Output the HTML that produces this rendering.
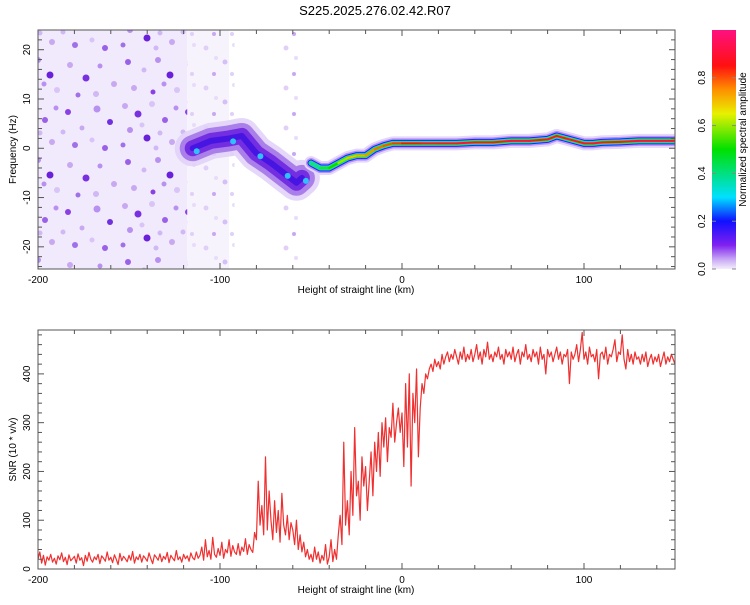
<!DOCTYPE html>
<html><head><meta charset="utf-8"><style>
html,body{margin:0;padding:0;background:#fff;}
svg text{font-family:"Liberation Sans",sans-serif;fill:#000;}
</style></head><body>
<svg id="chart" width="750" height="600" viewBox="0 0 750 600" xmlns="http://www.w3.org/2000/svg">
<defs>
<linearGradient id="cmap" x1="0" y1="1" x2="0" y2="0">
<stop offset="0" stop-color="#f4eefc"/><stop offset="0.04" stop-color="#c8a8f4"/>
<stop offset="0.1" stop-color="#8020f0"/><stop offset="0.2" stop-color="#1010ff"/>
<stop offset="0.3" stop-color="#00e0ff"/><stop offset="0.5" stop-color="#00e000"/>
<stop offset="0.65" stop-color="#e8f000"/><stop offset="0.75" stop-color="#ff9000"/>
<stop offset="0.85" stop-color="#ff1010"/><stop offset="1" stop-color="#ff1080"/>
</linearGradient>
<pattern id="noise" width="120" height="100" patternUnits="userSpaceOnUse">
<circle cx="5" cy="6" r="3" fill="#c8a8f0"/><circle cx="18" cy="14" r="3.5" fill="#7a30e0"/>
<circle cx="32" cy="4" r="3" fill="#d8c4f6"/><circle cx="45" cy="20" r="3" fill="#9a60e8"/>
<circle cx="10" cy="30" r="3" fill="#b890f0"/><circle cx="27" cy="38" r="3.5" fill="#6a20d8"/>
<circle cx="52" cy="42" r="3" fill="#c8a8f0"/><circle cx="40" cy="33" r="2.5" fill="#d0b8f4"/>
<circle cx="3" cy="45" r="2.5" fill="#a070e8"/><circle cx="56" cy="8" r="2.5" fill="#b890f0"/>
<circle cx="22" cy="25" r="2.5" fill="#d8c4f6"/><circle cx="36" cy="48" r="2.5" fill="#d0b8f4"/>
<circle cx="68" cy="12" r="3" fill="#8a40e4"/><circle cx="82" cy="28" r="2.5" fill="#c8a8f0"/>
<circle cx="97" cy="9" r="3.5" fill="#b890f0"/><circle cx="110" cy="22" r="3" fill="#7030e0"/>
<circle cx="75" cy="45" r="3" fill="#a070e8"/><circle cx="92" cy="40" r="2.5" fill="#d8c4f6"/>
<circle cx="105" cy="48" r="3" fill="#9a60e8"/><circle cx="63" cy="32" r="2.5" fill="#d0b8f4"/>
<circle cx="8" cy="62" r="3" fill="#9a60e8"/><circle cx="24" cy="70" r="2.5" fill="#d0b8f4"/>
<circle cx="38" cy="60" r="3" fill="#b890f0"/><circle cx="50" cy="75" r="3.5" fill="#6a20d8"/>
<circle cx="14" cy="88" r="3" fill="#c8a8f0"/><circle cx="33" cy="92" r="2.5" fill="#8a40e4"/>
<circle cx="57" cy="90" r="3" fill="#d8c4f6"/><circle cx="70" cy="65" r="3" fill="#c8a8f0"/>
<circle cx="86" cy="78" r="3.5" fill="#7a30e0"/><circle cx="100" cy="66" r="2.5" fill="#b890f0"/>
<circle cx="114" cy="84" r="3" fill="#c8a8f0"/><circle cx="78" cy="95" r="2.5" fill="#a070e8"/>
<circle cx="96" cy="94" r="3" fill="#d0b8f4"/><circle cx="44" cy="84" r="2.5" fill="#b890f0"/>
</pattern>
<pattern id="noise2" width="40" height="40" patternUnits="userSpaceOnUse">
<circle cx="6" cy="8" r="2.5" fill="#e0d0f8"/><circle cx="25" cy="22" r="2.5" fill="#d4bff6"/>
<circle cx="14" cy="34" r="2" fill="#c8a8f0"/><circle cx="34" cy="5" r="2" fill="#e8dcfa"/>
<circle cx="32" cy="34" r="2" fill="#e0d0f8"/><circle cx="16" cy="18" r="2" fill="#e8dcfa"/>
</pattern>
</defs>
<text x="375" y="15" text-anchor="middle" font-size="13">S225.2025.276.02.42.R07</text>
<g id="top"></g>
<g id="bot"></g>
<g id="cbar"></g>
</svg>
<script>
// ---- data ----
const xTicks = [-200, -100, 0, 100];
const freqTicks = [-20, -10, 0, 10, 20];
const snrTicks = [0, 100, 200, 300, 400];
const cbarTicks = [0.0, 0.2, 0.4, 0.6, 0.8];
const ridgeX = [-50,-45,-40,-35,-30,-25,-20,-15,-10,-5,0,10,20,30,40,50,60,70,80,85,90,100,105,110,120,130,150];
const ridgeF = [-3,-4,-4,-3,-2,-1.5,-1.5,-0.2,0.5,1,1,1,1,1,1.2,1.2,1.5,1.5,1.8,2.5,2,1,1,1.2,1.3,1.5,1.5];
const ridgeAmp = [0.35,0.4,0.5,0.6,0.7,0.72,0.75,0.78,0.8,0.82,0.85,0.9,0.9,0.9,0.9,0.9,0.9,0.9,0.9,0.9,0.9,0.9,0.9,0.9,0.9,0.9,0.9];
const clusterX = [-115,-105,-95,-88,-80,-72,-65,-58,-55];
const clusterF = [0,1.5,2,2.5,-1,-3,-5,-7,-6];
const snrStart = -200;
const snrValues = [
20,35,12,28,8,25,18,30,14,22, 10,27,19,33,15,24,9,29,17,21, 26,12,31,18,23,7,28,16,34,20,
14,25,19,30,11,27,22,16,35,18, 24,13,29,20,9,32,17,26,21,15, 28,18,36,12,25,19,30,14,27,22,
16,33,21,11,29,24,18,31,15,26, 20,34,13,28,22,17,38,19,25,14, 30,21,27,16,33,23,19,35,22,28,
45,18,60,25,38,20,65,30,24,42, 28,55,22,40,33,60,26,48,35,30, 52,28,45,36,62,30,50,40,34,75,
60,180,90,130,70,230,80,160,100,60, 140,75,120,55,155,90,70,110,60,95, 80,50,100,40,70,35,55,25,40,20,
30,15,45,20,35,12,28,18,50,10, 25,60,15,40,20,70,110,50,260,90, 140,70,200,110,290,150,180,100,230,170,
210,120,180,240,150,260,200,280,190,300, 250,310,220,290,270,340,260,300,330,280,
320,210,380,250,400,170,360,300,410,230, 330,380,360,400,390,410,420,405,430,415,
425,410,440,420,435,445,425,440,430,450, 435,420,445,430,455,425,440,430,450,425,
440,460,430,445,420,450,435,465,430,440, 425,445,435,455,430,440,420,450,435,445,
430,455,425,440,450,420,445,435,460,430, 440,425,450,435,445,420,455,430,440,400,
450,435,445,425,440,455,430,445,420,440, 435,450,380,445,430,440,460,425,450,485,
430,445,420,455,435,440,425,450,390,440, 445,430,455,420,440,435,450,470,425,445,
440,480,430,410,450,425,440,420,445,430, 435,420,440,425,445,415,430,440,420,435,
425,440,415,430,445,420,435,425,440,430,420];

// ---- scales ----
const NS='http://www.w3.org/2000/svg';
const X0=38, X1=675, XMIN=-200, XMAX=150;
const sx = v => X0 + (v-XMIN)/(XMAX-XMIN)*(X1-X0);
const T0=30, T1=269, FMIN=-24.5, FMAX=24;
const fy = v => T1 - (v-FMIN)/(FMAX-FMIN)*(T1-T0);
const B0=330, B1=569, SMIN=0, SMAX=490;
const sy = v => B1 - (v-SMIN)/(SMAX-SMIN)*(B1-B0);
const C0=30, C1=269;
const cy = v => C1 - v*(C1-C0);
function mk(tag, attrs, parent){const e=document.createElementNS(NS,tag);for(const k in attrs)e.setAttribute(k,attrs[k]);parent.appendChild(e);return e;}
function cmap(a){const st=[[0,[244,238,252]],[0.1,[128,32,240]],[0.2,[16,16,255]],[0.3,[0,224,255]],[0.5,[0,224,0]],[0.65,[232,240,0]],[0.75,[255,144,0]],[0.85,[255,16,16]],[1,[255,16,128]]];
 for(let i=1;i<st.length;i++){if(a<=st[i][0]){const t=(a-st[i-1][0])/(st[i][0]-st[i-1][0]);const c=st[i-1][1].map((v,j)=>Math.round(v+(st[i][1][j]-v)*t));return `rgb(${c})`;}}return 'rgb(255,16,128)';}

const topG=document.getElementById('top'), botG=document.getElementById('bot'), cb=document.getElementById('cbar');
const defsEl=document.querySelector('defs');

// ---- spectrogram ----
const clipT=mk('clipPath',{id:'clipT'},defsEl);
mk('rect',{x:X0,y:T0,width:X1-X0,height:T1-T0},clipT);
const sg=mk('g',{'clip-path':'url(#clipT)'},topG);
const wash=mk('rect',{x:X0,y:T0,width:sx(-118)-X0,height:T1-T0,fill:'#f1eafc'},sg);


const wash2=mk('rect',{x:sx(-118),y:T0,width:sx(-95)-sx(-118),height:T1-T0,fill:'#f7f3fd'},sg);


const nz=mk('rect',{x:X0,y:T0,width:sx(-118)-X0,height:T1-T0,fill:'url(#noise)'},sg);


const nz2=mk('rect',{x:sx(-118),y:T0,width:sx(-92)-sx(-118),height:T1-T0,fill:'url(#noise2)'},sg);


const nz3=mk('rect',{x:sx(-68),y:T0,width:sx(-55)-sx(-68),height:T1-T0,fill:'url(#noise2)'},sg);


const cpts=clusterX.map((x,i)=>sx(x)+','+fy(clusterF[i])).join(' ');
[[36,'#e0d0f8'],[26,'#a070e8'],[16,'#6a20e0'],[6,'#4010e0']].forEach(([w,c])=>{
 const p=mk('polyline',{points:cpts,fill:'none',stroke:c,'stroke-width':w,'stroke-linejoin':'round','stroke-linecap':'round',opacity:0.85},sg);
 
 
});
clusterX.forEach((x,i)=>{ if(i%2==0){const d=mk('circle',{cx:sx(x)+4,cy:fy(clusterF[i])+3,r:3,fill:'#30c0ff'},sg);
 
 }});
const rpts=ridgeX.map((x,i)=>sx(x)+','+fy(ridgeF[i])).join(' ');
[[14,'#e4d8fa'],[10,'#b890f0'],[7,'#2020ff'],[5,'#00d8f0'],[3.5,'#40e000']].forEach(([w,c])=>{
 const p=mk('polyline',{points:rpts,fill:'none',stroke:c,'stroke-width':w,'stroke-linejoin':'round','stroke-linecap':'round'},sg);
 
 
});
for(let i=0;i<ridgeX.length-1;i++){
 const s=mk('line',{x1:sx(ridgeX[i]),y1:fy(ridgeF[i]),x2:sx(ridgeX[i+1]),y2:fy(ridgeF[i+1]),stroke:cmap(ridgeAmp[i]),'stroke-width':2,'stroke-linecap':'round'},sg);
 
 
}

function axes(g,Y0,Y1,yt,yfun,minStepY,ylabel,minY,maxY){
 const fr=mk('rect',{x:X0,y:Y0,width:X1-X0,height:Y1-Y0,fill:'none',stroke:'#555','stroke-width':1},g);
 
 
 for(let v=-200;v<=150;v+=20){const x=sx(v);const maj=v%100==0;const L=maj?6:4;
  mk('line',{x1:x,y1:Y1,x2:x,y2:Y1-L,stroke:'#555'},g);mk('line',{x1:x,y1:Y0,x2:x,y2:Y0+L,stroke:'#555'},g);}
 xTicks.forEach(v=>{const t=mk('text',{x:sx(v),y:Y1+14,'text-anchor':'middle','font-size':10},g);t.textContent=v;
  
  });
 const xl=mk('text',{x:356,y:Y1+24,'text-anchor':'middle','font-size':10},g);xl.textContent='Height of straight line (km)';
 
 
 for(let v=Math.ceil(minY/minStepY)*minStepY;v<=maxY;v+=minStepY){const y=yfun(v);const maj=yt.includes(v);const L=maj?6:4;
  mk('line',{x1:X0,y1:y,x2:X0+L,y2:y,stroke:'#555'},g);mk('line',{x1:X1,y1:y,x2:X1-L,y2:y,stroke:'#555'},g);}
 yt.forEach(v=>{const y=yfun(v);const t=mk('text',{x:30,y:y,'text-anchor':'middle','font-size':10,transform:`rotate(-90 30 ${y})`},g);t.textContent=v;
  
  });
 const my=(Y0+Y1)/2;const yl=mk('text',{x:16,y:my,'text-anchor':'middle','font-size':10,transform:`rotate(-90 16 ${my})`},g);yl.textContent=ylabel;
 
 
}
axes(topG,T0,T1,freqTicks,fy,2,'Frequency (Hz)',FMIN,FMAX);

// ---- SNR ----
const clipB=mk('clipPath',{id:'clipB'},defsEl);
mk('rect',{x:X0,y:B0,width:X1-X0,height:B1-B0},clipB);
const pts=snrValues.map((v,i)=>sx(snrStart+i)+','+sy(v)).join(' ');
const ln=mk('polyline',{points:pts,fill:'none',stroke:'#f03030','stroke-width':1.2,'stroke-linejoin':'round','clip-path':'url(#clipB)'},botG);


axes(botG,B0,B1,snrTicks,sy,20,'SNR (10 * v/v)',SMIN,SMAX);

// ---- colorbar ----
const cr=mk('rect',{x:712,y:C0,width:24,height:C1-C0,fill:'url(#cmap)'},cb);


cbarTicks.forEach(v=>{const y=cy(v);
 mk('line',{x1:712,y1:y,x2:716,y2:y,stroke:'#888'},cb);mk('line',{x1:736,y1:y,x2:732,y2:y,stroke:'#888'},cb);
 const t=mk('text',{x:705,y:y,'text-anchor':'middle','font-size':10,transform:`rotate(-90 705 ${y})`},cb);t.textContent=v.toFixed(1);
 
 });
const ct=mk('text',{x:746,y:(C0+C1)/2-10,'text-anchor':'middle','font-size':10,transform:`rotate(-90 746 ${(C0+C1)/2-10})`},cb);ct.textContent='Normalized spectral amplitude';


</script>
</body></html>
